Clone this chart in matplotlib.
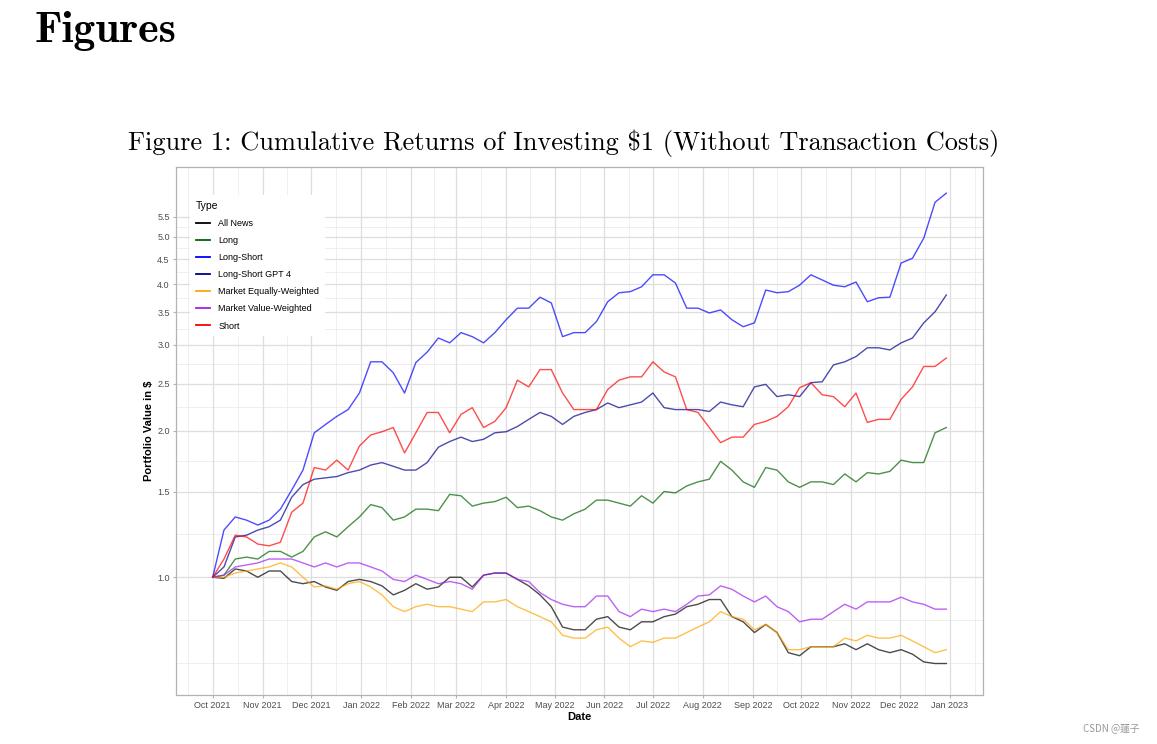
import numpy as np
import pandas as pd
import matplotlib
matplotlib.use("Agg")
import matplotlib.pyplot as plt
import matplotlib.dates as mdates
from matplotlib.lines import Line2D

# weekly readings of the portfolio value, Oct 2021 - Dec 2022
dates = pd.date_range("2021-10-01", periods=66, freq="7D")

all_news = [1.00, 0.995, 1.04, 1.03, 1.00, 1.03, 1.03, 0.98, 0.97, 0.98, 0.955, 0.94, 0.98, 0.99,
            0.98, 0.96, 0.92, 0.94, 0.97, 0.945, 0.955, 1.00, 1.00, 0.955, 1.01, 1.02, 1.02, 0.99,
            0.96, 0.92, 0.87, 0.79, 0.78, 0.78, 0.82, 0.83, 0.79, 0.78, 0.81, 0.81, 0.83, 0.84,
            0.87, 0.88, 0.90, 0.90, 0.83, 0.81, 0.77, 0.80, 0.77, 0.70, 0.69, 0.72, 0.72, 0.72,
            0.73, 0.71, 0.73, 0.71, 0.70, 0.71, 0.695, 0.67, 0.665, 0.665]
long_ = [1.00, 1.01, 1.09, 1.10, 1.09, 1.13, 1.13, 1.10, 1.13, 1.21, 1.24, 1.21, 1.27, 1.33,
         1.41, 1.39, 1.31, 1.33, 1.38, 1.38, 1.37, 1.48, 1.47, 1.40, 1.42, 1.43, 1.46, 1.39,
         1.40, 1.37, 1.33, 1.31, 1.35, 1.38, 1.44, 1.44, 1.42, 1.40, 1.47, 1.42, 1.50, 1.49,
         1.54, 1.57, 1.59, 1.73, 1.66, 1.57, 1.53, 1.68, 1.66, 1.57, 1.53, 1.57, 1.57, 1.55,
         1.63, 1.57, 1.64, 1.63, 1.65, 1.74, 1.72, 1.72, 1.98, 2.03]
long_short = [1.00, 1.25, 1.33, 1.31, 1.28, 1.31, 1.38, 1.51, 1.66, 1.98, 2.06, 2.14, 2.21, 2.39,
              2.77, 2.77, 2.63, 2.39, 2.76, 2.90, 3.10, 3.03, 3.18, 3.12, 3.03, 3.18, 3.38, 3.57,
              3.57, 3.76, 3.66, 3.12, 3.18, 3.18, 3.35, 3.68, 3.84, 3.86, 3.95, 4.18, 4.18, 4.02,
              3.57, 3.57, 3.49, 3.54, 3.38, 3.27, 3.33, 3.89, 3.84, 3.86, 3.98, 4.18, 4.08, 3.98,
              3.95, 4.04, 3.68, 3.75, 3.76, 4.42, 4.52, 4.97, 5.89, 6.15]
long_short_gpt4 = [1.00, 1.05, 1.21, 1.22, 1.25, 1.27, 1.31, 1.46, 1.55, 1.59, 1.60, 1.61, 1.64, 1.66,
                   1.70, 1.72, 1.69, 1.66, 1.66, 1.72, 1.85, 1.90, 1.94, 1.90, 1.92, 1.98, 1.99, 2.04,
                   2.11, 2.18, 2.14, 2.06, 2.14, 2.18, 2.21, 2.28, 2.23, 2.26, 2.29, 2.39, 2.23, 2.21,
                   2.21, 2.21, 2.19, 2.29, 2.26, 2.24, 2.46, 2.49, 2.35, 2.37, 2.35, 2.51, 2.52, 2.73,
                   2.77, 2.84, 2.96, 2.96, 2.93, 3.03, 3.10, 3.33, 3.51, 3.80]
market_equal = [1.00, 1.00, 1.02, 1.03, 1.04, 1.05, 1.07, 1.05, 1.00, 0.955, 0.96, 0.945, 0.97, 0.98,
                0.955, 0.92, 0.87, 0.85, 0.87, 0.88, 0.87, 0.87, 0.86, 0.85, 0.89, 0.89, 0.90, 0.87,
                0.85, 0.83, 0.81, 0.76, 0.75, 0.75, 0.78, 0.79, 0.75, 0.72, 0.74, 0.735, 0.75, 0.75,
                0.77, 0.79, 0.81, 0.85, 0.83, 0.82, 0.78, 0.80, 0.77, 0.71, 0.71, 0.72, 0.72, 0.72,
                0.75, 0.74, 0.76, 0.75, 0.75, 0.76, 0.74, 0.72, 0.70, 0.71]
market_value = [1.00, 1.01, 1.05, 1.06, 1.07, 1.09, 1.09, 1.09, 1.07, 1.05, 1.07, 1.05, 1.07, 1.07,
                1.05, 1.03, 0.99, 0.98, 1.01, 0.99, 0.97, 0.98, 0.97, 0.945, 1.01, 1.02, 1.02, 0.99,
                0.98, 0.93, 0.90, 0.88, 0.87, 0.87, 0.915, 0.915, 0.85, 0.83, 0.86, 0.85, 0.86, 0.85,
                0.88, 0.915, 0.92, 0.96, 0.945, 0.915, 0.89, 0.915, 0.87, 0.85, 0.81, 0.82, 0.82, 0.85,
                0.88, 0.86, 0.89, 0.89, 0.89, 0.91, 0.89, 0.88, 0.86, 0.86]
short = [1.00, 1.09, 1.22, 1.21, 1.17, 1.16, 1.18, 1.36, 1.42, 1.68, 1.66, 1.74, 1.66, 1.86,
         1.96, 1.99, 2.03, 1.80, 1.98, 2.18, 2.18, 1.98, 2.16, 2.23, 2.03, 2.09, 2.23, 2.54,
         2.46, 2.67, 2.67, 2.39, 2.21, 2.21, 2.21, 2.43, 2.54, 2.58, 2.58, 2.77, 2.64, 2.58,
         2.21, 2.18, 2.03, 1.89, 1.94, 1.94, 2.06, 2.09, 2.14, 2.24, 2.45, 2.51, 2.37, 2.35,
         2.24, 2.39, 2.08, 2.11, 2.11, 2.32, 2.46, 2.71, 2.71, 2.82]

types = ["All News", "Long", "Long-Short", "Long-Short GPT 4",
         "Market Equally-Weighted", "Market Value-Weighted", "Short"]
series = [all_news, long_, long_short, long_short_gpt4, market_equal, market_value, short]
colors = ["black", "#006400", "blue", "#00008B", "orange", "#A020F0", "red"]

y_breaks = [1.0, 1.5, 2.0, 2.5, 3.0, 3.5, 4.0, 4.5, 5.0, 5.5]

fig = plt.figure(figsize=(11.57, 7.44), dpi=100)
fig.patch.set_facecolor("white")

fig.text(35 / 1157, 1 - 31 / 744, "Figures", family="cmb10", fontsize=31.5,
         ha="left", va="center")
fig.text(564 / 1157, 1 - 143 / 744,
         r"Figure 1: Cumulative Returns of Investing \$1 (Without Transaction Costs)",
         family="cmr10", fontsize=19, ha="center", va="center")
fig.text(1140 / 1157, 1 - 728 / 744, "CSDN @蓮子", family=["Noto Sans CJK TC", "DejaVu Sans"],
         fontsize=7, color="#999999", ha="right", va="center")

ax = fig.add_axes([176 / 1157, 1 - 695 / 744, 807 / 1157, 528 / 744])
ax.set_yscale("log")

ax.set_ylim(0.573, 6.96)
d0, d1 = dates[0], dates[-1]
pad = (d1 - d0) * 0.05
ax.set_xlim(d0 - pad, d1 + pad)

# grid like ggplot theme_light: majors + midpoint minors
month_ticks = pd.date_range("2021-10-01", "2023-01-01", freq="MS")
all_months = pd.date_range("2021-09-01", "2023-02-01", freq="MS")
minor_x = [a + (b - a) / 2 for a, b in zip(all_months[:-1], all_months[1:])]
lb = np.log(y_breaks)
step = lb[1] - lb[0]
ext = np.concatenate([[lb[0] - step], lb])
minor_y = np.exp(np.concatenate([(ext[:-1] + ext[1:]) / 2, [lb[0] - step]]))

for m in minor_x:
    ax.axvline(m, color="#EDEDED", lw=0.6, zorder=0)
for v in minor_y:
    ax.axhline(v, color="#EDEDED", lw=0.6, zorder=0)
for m in month_ticks:
    ax.axvline(m, color="#DEDEDE", lw=0.9, zorder=0)
for v in y_breaks:
    ax.axhline(v, color="#DEDEDE", lw=0.9, zorder=0)

for name, vals, c in zip(types, series, colors):
    ax.plot(dates, vals, color=c, lw=1.0, alpha=0.7, zorder=2)

ax.set_xticks(month_ticks)
ax.xaxis.set_major_formatter(mdates.DateFormatter("%b %Y"))
ax.set_yticks(y_breaks)
ax.set_yticklabels(["%.1f" % b for b in y_breaks])
ax.yaxis.set_minor_locator(matplotlib.ticker.NullLocator())
ax.tick_params(axis="both", which="major", labelsize=6.5, labelcolor="#4D4D4D",
               color="#B3B3B3", length=2.5, width=0.8, pad=2)
for s in ax.spines.values():
    s.set_color("#B3B3B3")
    s.set_linewidth(0.9)

ax.set_xlabel("Date", fontsize=8, fontweight="bold", labelpad=1, family="Liberation Sans")
ax.set_ylabel("Portfolio Value in \\$", fontsize=8, fontweight="bold", labelpad=2,
              family="Liberation Sans")
for lab in ax.get_xticklabels() + ax.get_yticklabels():
    lab.set_family("Liberation Sans")

handles = [Line2D([0], [0], color=c, lw=1.3) for c in colors]
leg = ax.legend(handles, types, title="Type", loc="upper left",
                bbox_to_anchor=(0.012, 0.955), fontsize=6.5, title_fontsize=7.5,
                frameon=True, facecolor="white", edgecolor="none", framealpha=1,
                fancybox=False, handlelength=1.6, handletextpad=0.9,
                labelspacing=0.9, borderpad=0.6, alignment="left",
                prop={"family": "Liberation Sans", "size": 6.5})
leg.get_title().set_family("Liberation Sans")
leg.get_title().set_fontweight("medium")
leg.set_zorder(3)

fig.savefig("out.png", dpi=100)
